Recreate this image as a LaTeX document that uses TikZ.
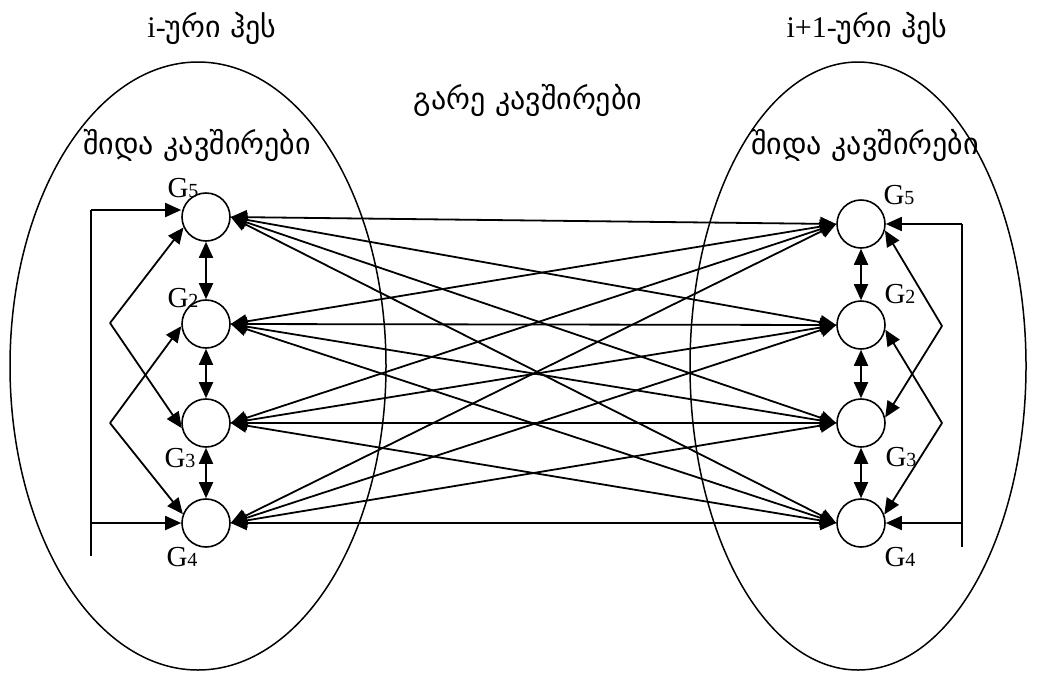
\documentclass[tikz,border=0pt]{standalone}
\usepackage{fontspec}
\setmainfont{Liberation Serif}
\newfontfamily\geofont{DejaVu Sans}
\usetikzlibrary{arrows.meta}
\usetikzlibrary{positioning}

\newcommand{\gname}[1]{G{\fontsize{20}{20}\selectfont #1}}

\begin{document}
\begin{tikzpicture}[x=1pt, y=-1pt,
        >={Triangle[length=16pt, width=14pt]},
        gate/.style={circle, draw=black, line width=1.6pt, minimum size=48pt, inner sep=0pt},
        link/.style={line width=1.8pt},
        region/.style={draw=black, line width=1.5pt},
        glabel/.style={font=\fontsize{29}{29}\selectfont, inner sep=0pt},
        caption/.style={font=\fontsize{30}{32}\selectfont, inner sep=0pt}
      ]
        \useasboundingbox (0,0) rectangle (1048,675);

        \draw[region] (198,366) ellipse [x radius=188pt, y radius=304pt];
        \draw[region] (858,366) ellipse [x radius=168pt, y radius=304pt];

        \node[caption]  (leftname)   at (212,28)   {i-{\geofont ური ჰეს}};
        \node[caption]  (rightname)  at (867,28)   {i+1-{\geofont ური ჰეს}};
        \node[caption]  (outer)      at (528,100)  {\geofont გარე კავშირები};
        \node[caption]  (leftinner)  at (197,145)  {\geofont შიდა კავშირები};
        \node[caption]  (rightinner) at (865,145)  {\geofont შიდა კავშირები};

        \node[gate]  (l5)  at (206,217)                           {};
        \node[gate]  (l2)  [below of=l5, node distance=107pt]     {};
        \node[gate]  (l3)  [below of=l2, node distance=99pt]      {};
        \node[gate]  (l4)  [below of=l3, node distance=100pt]     {};

        \node[gate]  (r5)  at (861,224)                           {};
        \node[gate]  (r2)  [below of=r5, node distance=101pt]     {};
        \node[gate]  (r3)  [below of=r2, node distance=98pt]      {};
        \node[gate]  (r4)  [below of=r3, node distance=100pt]     {};

        \node[glabel]  (l5name)  at ([shift={(-23,-29)}]l5)  {\gname{5}};
        \node[glabel]  (l2name)  at ([shift={(-23,-26)}]l2)  {\gname{2}};
        \node[glabel]  (l3name)  at ([shift={(-26,35)}]l3)   {\gname{3}};
        \node[glabel]  (l4name)  at ([shift={(-24,34)}]l4)   {\gname{4}};
        \node[glabel]  (r5name)  at ([shift={(38,-29)}]r5)   {\gname{5}};
        \node[glabel]  (r2name)  at ([shift={(39,-31)}]r2)   {\gname{2}};
        \node[glabel]  (r3name)  at ([shift={(40,34)}]r3)    {\gname{3}};
        \node[glabel]  (r4name)  at ([shift={(39,34)}]r4)    {\gname{4}};

        \draw[link, <->] (l5) -- (l2);
        \draw[link, <->] (l2) -- (l3);
        \draw[link, <->] (l3) -- (l4);
        \draw[link, <->] (r5) -- (r2);
        \draw[link, <->] (r2) -- (r3);
        \draw[link, <->] (r3) -- (r4);

        \draw[link, <->] (l5.east) -- (r5.west);
        \draw[link, <->] (l5.east) -- (r2.west);
        \draw[link, <->] (l5.east) -- (r3.west);
        \draw[link, <->] (l5.east) -- (r4.west);
        \draw[link, <->] (l2.east) -- (r5.west);
        \draw[link, <->] (l2.east) -- (r2.west);
        \draw[link, <->] (l2.east) -- (r3.west);
        \draw[link, <->] (l2.east) -- (r4.west);
        \draw[link, <->] (l3.east) -- (r5.west);
        \draw[link, <->] (l3.east) -- (r2.west);
        \draw[link, <->] (l3.east) -- (r3.west);
        \draw[link, <->] (l3.east) -- (r4.west);
        \draw[link, <->] (l4.east) -- (r5.west);
        \draw[link, <->] (l4.east) -- (r2.west);
        \draw[link, <->] (l4.east) -- (r3.west);
        \draw[link, <->] (l4.east) -- (r4.west);

        \coordinate (ltop) at (91,210);
        \coordinate (lbot) at (91,556);
        \coordinate (lzig1) at (110,323);
        \coordinate (lzig2) at (110,423);
        \draw[link] (lbot) -- (ltop);
        \draw[link, ->] (ltop) -- (ltop -| l5.west);
        \draw[link, ->] (lbot |- l4) -- (l4.west);
        \draw[link, ->] (lzig1) -- (l5.205);
        \draw[link, ->] (lzig1) -- (l3.192);
        \draw[link, ->] (lzig2) -- (l2.185);
        \draw[link, ->] (lzig2) -- (l4.159);

        \coordinate (rtop) at (962,224);
        \coordinate (rbot) at (962,547);
        \coordinate (rzig1) at (942,326);
        \coordinate (rzig2) at (942,423);
        \draw[link] (rbot) -- (rtop);
        \draw[link, ->] (rtop) -- (r5.east);
        \draw[link, ->] (rbot |- r4) -- (r4.east);
        \draw[link, ->] (rzig1) -- (r5.-15);
        \draw[link, ->] (rzig1) -- (r3.13);
        \draw[link, ->] (rzig2) -- (r2.-11);
        \draw[link, ->] (rzig2) -- (r4.20);
      \end{tikzpicture}
\end{document}
